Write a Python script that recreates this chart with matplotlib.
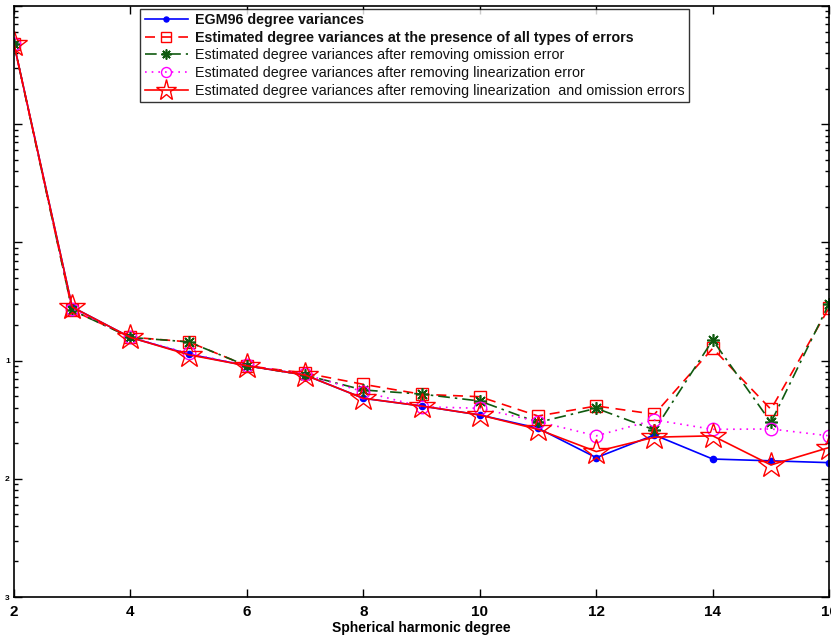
import matplotlib
matplotlib.use("Agg")
import matplotlib.pyplot as plt
from matplotlib.ticker import LogLocator, FixedLocator, FixedFormatter, NullFormatter

# spherical harmonic degrees
degree = [2, 3, 4, 5, 6, 7, 8, 9, 10, 11, 12, 13, 14, 15, 16]

egm96 = [47.8, 0.284, 0.157, 0.1135, 0.0904, 0.0755, 0.048, 0.0413, 0.0347,
         0.0268, 0.0151, 0.0235, 0.0147, 0.0142, 0.0137]
all_errors = [47.8, 0.267, 0.158, 0.144, 0.0904, 0.0785, 0.063, 0.0519, 0.0495,
              0.034, 0.0413, 0.0352, 0.127, 0.0387, 0.281]
no_omission = [47.8, 0.267, 0.157, 0.144, 0.0904, 0.0755, 0.0564, 0.0521, 0.0455,
               0.030, 0.0395, 0.0259, 0.149, 0.030, 0.304]
no_linearization = [47.8, 0.275, 0.158, 0.115, 0.091, 0.0765, 0.0546, 0.0407, 0.0395,
                    0.0305, 0.0231, 0.0315, 0.0262, 0.0264, 0.0231]
no_both = [47.8, 0.284, 0.157, 0.112, 0.0904, 0.0755, 0.048, 0.0413, 0.0347,
           0.0262, 0.017, 0.0225, 0.0231, 0.0131, 0.0184]

labels = ["EGM96 degree variances",
          "Estimated degree variances at the presence of all types of errors",
          "Estimated degree variances after removing omission error",
          "Estimated degree variances after removing linearization error",
          "Estimated degree variances after removing linearization  and omission errors"]

# decade ticks; only the exponent digit is visible in the original
ytick_vals = [1e-3, 1e-2, 1e-1, 1, 10, 100]
ytick_text = ["3", "2", "1", "", "", ""]

plt.rcParams["font.family"] = ["Liberation Sans", "DejaVu Sans"]

fig = plt.figure(figsize=(8.31, 6.35), dpi=100)
ax = fig.add_axes([0.0168, 0.0598, 0.981, 0.9308])

green = "#0f5a0f"
ax.plot(degree, egm96, color="blue", lw=1.2, marker=".", ms=9, label=labels[0])
ax.plot(degree, all_errors, color="red", lw=1.2, ls=(0, (6, 4)), marker="s", ms=9,
        mfc="none", mew=1.0, label=labels[1])
ax.plot(degree, no_omission, color=green, lw=1.2, ls=(0, (7, 3, 1.5, 3)),
        marker=(8, 2, 0), ms=9, mew=1.2, label=labels[2])
ax.plot(degree, no_linearization, color="magenta", lw=1.2, ls=(0, (1, 3)), marker="o",
        ms=9, mfc="none", mew=1.0, label=labels[3])
ax.plot(degree, no_both, color="red", lw=1.2, marker="*", ms=19, mfc="none", mew=1.0,
        label=labels[4])

ax.set_yscale("log")
ax.set_xlim(2, 16)
ax.set_ylim(1e-3, 1e2)
ax.set_xticks(range(2, 17, 2))
ax.yaxis.set_major_locator(FixedLocator(ytick_vals))
ax.yaxis.set_major_formatter(FixedFormatter(ytick_text))
ax.yaxis.set_minor_locator(LogLocator(base=10, subs=range(2, 10)))
ax.yaxis.set_minor_formatter(NullFormatter())
ax.tick_params(which="both", direction="in", top=True, right=True, width=1.0)
ax.tick_params(axis="x", which="major", length=6, labelsize=11, pad=6)
ax.tick_params(axis="y", which="major", length=6, labelsize=6, pad=3)
ax.tick_params(axis="y", which="minor", length=3)
for lab in ax.get_xticklabels() + ax.get_yticklabels():
    lab.set_fontweight("bold")
for sp in ax.spines.values():
    sp.set_linewidth(1.2)

ax.set_xlabel("Spherical harmonic degree", fontsize=10, fontweight="bold", labelpad=1)

leg = ax.legend(loc="upper left", bbox_to_anchor=(0.155, 0.995), fontsize=10.3,
                frameon=True, fancybox=False, edgecolor="black", handlelength=3.0,
                borderpad=0.3, labelspacing=0.25, handletextpad=0.5, borderaxespad=0,
                markerscale=0.8)
leg.get_frame().set_linewidth(1.0)
for i, t in enumerate(leg.get_texts()):
    if i < 2:
        t.set_fontweight("bold")
    t.set_color("#111111")

fig.savefig("out.png", dpi=100)
